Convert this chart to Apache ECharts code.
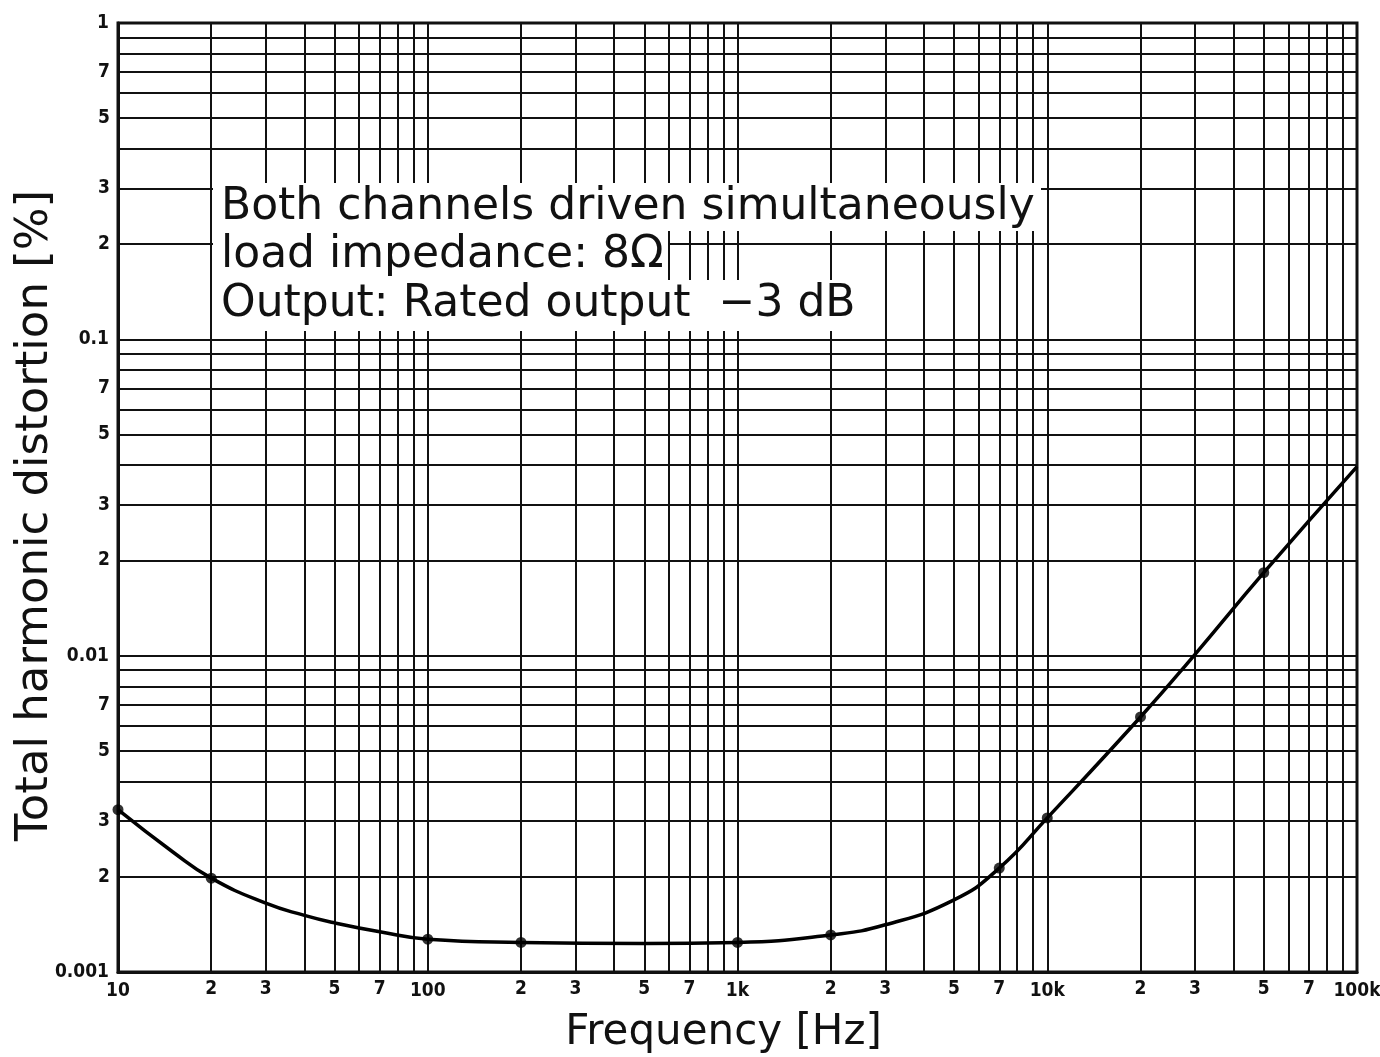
<!DOCTYPE html>
<html>
<head>
<meta charset="utf-8">
<title>THD vs frequency</title>
<script src="https://cdn.jsdelivr.net/npm/echarts@6/dist/echarts.min.js"></script>
<style>
  html, body { margin: 0; padding: 0; background: #fff; }
  #chart { width: 1380px; height: 1057px; }
</style>
</head>
<body>
<div id="chart"></div>
<script>
// curve (Hz, %)
var freqCurve = [10, 15, 20, 30, 40, 50, 70, 100, 200, 500, 1000, 2000, 3000, 5000, 7000, 10000, 20000, 30000, 50000, 100000]
var thdCurve = [0.00326, 0.0024, 0.00198, 0.00165, 0.00151, 0.00143, 0.00134, 0.00127, 0.00124, 0.00123, 0.00124, 0.00131, 0.00141, 0.00169, 0.00213, 0.00307, 0.0064, 0.0101, 0.0183, 0.0396]
// measured points (dots)
var freqDots = [10, 20, 100, 200, 1000, 2000, 7000, 10000, 20000, 50000]
var thdDots = [0.00326, 0.00198, 0.00127, 0.00124, 0.00124, 0.00131, 0.00213, 0.00307, 0.0064, 0.0183]
// decade tick labels
var xDecades = { 10: '10', 100: '100', 1000: '1k', 10000: '10k', 100000: '100k' }
var yDecades = { 0.001: '0.001', 0.01: '0.01', 0.1: '0.1', 1: '1' }
// minor grid multipliers, and which of them get a label
var minorSteps = [2, 3, 4, 5, 6, 7, 8, 9]
var labelledSteps = [2, 3, 5, 7]
var xStarts = [10, 100, 1000, 10000]
var yStarts = [0.001, 0.01, 0.1]
var xRange = [10, 100000]
var yRange = [0.001, 1]

var tickFont = "'Liberation Sans Narrow', 'DejaVu Sans Condensed', 'DejaVu Sans', sans-serif"
var titleFont = "'DejaVu Sans', sans-serif"

// one markLine per minor grid value, given as two data coords
function minorLines (starts, vertical) {
  var out = []
  starts.forEach(function (s) {
    minorSteps.forEach(function (m) {
      var v = +(s * m).toPrecision(3)
      var a = vertical ? [v, yRange[0]] : [xRange[0], v]
      var b = vertical ? [v, yRange[1]] : [xRange[1], v]
      out.push([
        { coord: a, label: { show: labelledSteps.indexOf(m) >= 0, formatter: String(m) } },
        { coord: b }
      ])
    })
  })
  return out
}

var lineStyle = { color: '#111', width: 2, type: 'solid' }
var tickLabel = { color: '#111', fontFamily: tickFont, fontWeight: 'bold', fontSize: 19 }

var option = {
  animation: false,
  backgroundColor: '#fff',
  grid: {
    left: 118, right: 23, top: 23, bottom: 85,
    outerBoundsMode: 'none', containLabel: false,
    show: true, borderColor: '#111', borderWidth: 3, backgroundColor: 'transparent'
  },
  xAxis: {
    type: 'log', logBase: 10, min: xRange[0], max: xRange[1],
    name: 'Frequency [Hz]', nameLocation: 'middle', nameGap: 40, nameMoveOverlap: false,
    nameTextStyle: { fontFamily: titleFont, fontSize: 42, color: '#111', padding: [0, 28, 0, 0] },
    axisLine: { lineStyle: { color: '#111', width: 3 } },
    axisTick: { show: false },
    axisLabel: Object.assign({ margin: 10, formatter: function (v) { return xDecades[v] || '' } }, tickLabel),
    splitLine: { show: true, lineStyle: lineStyle }
  },
  yAxis: {
    type: 'log', logBase: 10, min: yRange[0], max: yRange[1],
    name: 'Total harmonic distortion [%]', nameLocation: 'middle', nameGap: 60, nameMoveOverlap: false,
    nameTextStyle: { fontFamily: titleFont, fontSize: 45, color: '#111', padding: [0, 36, 0, 0] },
    axisLine: { lineStyle: { color: '#111', width: 3 } },
    axisTick: { show: false },
    axisLabel: Object.assign({ margin: 9, formatter: function (v) { return yDecades[v] || '' } }, tickLabel),
    splitLine: { show: true, lineStyle: lineStyle }
  },
  series: [
    {
      type: 'line',
      data: freqCurve.map(function (f, i) { return [f, thdCurve[i]] }),
      smooth: 0.5,
      showSymbol: false,
      lineStyle: { color: '#000', width: 3.5 },
      z: 5,
      // minor grid, drawn through the axes
      markLine: {
        silent: true, symbol: 'none', animation: false, z: 1,
        lineStyle: lineStyle,
        label: Object.assign({ position: 'start', distance: 8 }, tickLabel),
        emphasis: { disabled: true },
        data: minorLines(xStarts, true).concat(minorLines(yStarts, false))
      }
    },
    {
      type: 'scatter',
      data: freqDots.map(function (f, i) { return [f, thdDots[i]] }),
      symbol: 'circle', symbolSize: 11,
      itemStyle: { color: '#000' },
      z: 6
    }
  ],
  graphic: [
    { type: 'rect', shape: { x: 213, y: 183, width: 828, height: 48 }, style: { fill: '#fff' }, z: 50 },
    { type: 'rect', shape: { x: 213, y: 230, width: 455, height: 51 }, style: { fill: '#fff' }, z: 50 },
    { type: 'rect', shape: { x: 213, y: 280, width: 650, height: 51 }, style: { fill: '#fff' }, z: 50 },
    { type: 'text', x: 221, y: 208, z: 51, style: { text: 'Both channels driven simultaneously', font: '44px ' + titleFont, fill: '#111', verticalAlign: 'middle' } },
    { type: 'text', x: 221, y: 256, z: 51, style: { text: 'load impedance: 8Ω', font: '44px ' + titleFont, fill: '#111', verticalAlign: 'middle' } },
    { type: 'text', x: 221, y: 305, z: 51, style: { text: 'Output: Rated output  −3 dB', font: '44px ' + titleFont, fill: '#111', verticalAlign: 'middle' } }
  ]
}

var chart = echarts.init(document.getElementById('chart'))
chart.setOption(option)
</script>
</body>
</html>
